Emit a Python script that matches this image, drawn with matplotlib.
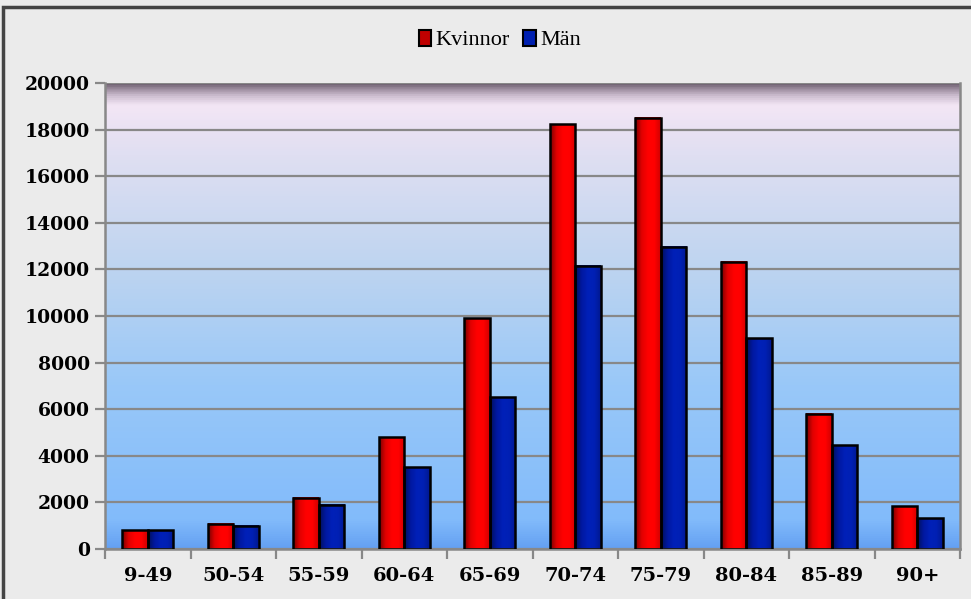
import numpy as np
import matplotlib
matplotlib.use('Agg')
import matplotlib.pyplot as plt
from matplotlib.colors import LinearSegmentedColormap
from matplotlib.patches import Rectangle, Patch

# data
categories = ['9-49', '50-54', '55-59', '60-64', '65-69', '70-74', '75-79', '80-84', '85-89', '90+']
kvinnor = [800, 1080, 2200, 4800, 9900, 18230, 18510, 12330, 5810, 1840]
man = [800, 1000, 1900, 3510, 6510, 12160, 12980, 9050, 4450, 1310]
series_names = ['Kvinnor', 'Män']

yticks = list(range(0, 20001, 2000))

fig = plt.figure(figsize=(9.71, 5.99), dpi=100, facecolor='#EBEBEB')
ax = fig.add_axes([105/971, 1 - 549/599, 855/971, 466/599])

ax.set_xlim(-0.5, len(categories) - 0.5)
ax.set_ylim(0, 20000)

# plot area background: vertical gradient (blue at bottom, lavender at top)
bg = LinearSegmentedColormap.from_list('bg', [
    (0.0, '#64A0F2'), (0.06, '#82BBFB'), (0.35, '#99C8F8'),
    (0.6, '#BDD4F0'), (0.85, '#E0DFF2'), (0.955, '#F3E6F5'),
    (0.975, '#CDBED0'), (0.99, '#9A8A9C'), (1.0, '#706272')])
grad = np.linspace(0, 1, 500).reshape(-1, 1)
ax.imshow(grad, aspect='auto', cmap=bg, origin='lower',
          extent=(-0.5, len(categories) - 0.5, 0, 20000), zorder=0)

ax.yaxis.grid(True, color='#888888', linewidth=1.6, zorder=1)
ax.set_axisbelow(True)

red_cm = LinearSegmentedColormap.from_list('r', ['#7A0000', '#E00000', '#FF0000', '#FF0000', '#D00000'])
blue_cm = LinearSegmentedColormap.from_list('b', ['#00105A', '#0018A0', '#0020B8', '#0020B4', '#001890'])
hgrad = np.linspace(0, 1, 50).reshape(1, -1)

width = 0.3
x = np.arange(len(categories))
for vals, off, cm in [(kvinnor, -width / 2, red_cm), (man, width / 2, blue_cm)]:
    for xi, v in zip(x, vals):
        left = xi + off - width / 2
        ax.imshow(hgrad, aspect='auto', cmap=cm, extent=(left, left + width, 0, v), zorder=2)
        ax.add_patch(Rectangle((left, 0), width, v, fill=False, edgecolor='black',
                               linewidth=1.8, zorder=3))

ax.set_xlim(-0.5, len(categories) - 0.5)
ax.set_ylim(0, 20000)

ax.set_yticks(yticks)
ax.set_yticklabels([str(t) for t in yticks], fontfamily='DejaVu Serif',
                   fontweight='bold', fontsize=13.5)
ax.set_xticks(x)
ax.set_xticklabels(categories, fontfamily='DejaVu Serif', fontweight='bold', fontsize=14)
ax.set_xticks(np.arange(-0.5, len(categories)), minor=True)
ax.tick_params(axis='x', which='major', length=0, pad=13)
ax.tick_params(axis='x', which='minor', length=7, color='#888888', width=1.6)
ax.tick_params(axis='y', length=7, color='#888888', width=1.6, pad=4)

for s in ax.spines.values():
    s.set_color('#888888')
    s.set_linewidth(1.8)
ax.spines['top'].set_visible(False)

handles = [Patch(facecolor='#C00000', edgecolor='black', linewidth=1.5),
           Patch(facecolor='#0020B0', edgecolor='black', linewidth=1.5)]
fig.legend(handles, series_names, loc='center', bbox_to_anchor=(500/971, 1 - 40/599),
           ncol=2, frameon=False, prop={'family': 'Liberation Serif', 'size': 16},
           handlelength=0.55, handleheight=0.75, handletextpad=0.2, columnspacing=0.6)

# outer chart border
fig.patches.append(Rectangle((3/971, -0.05), 2, 1 - 7/599 + 0.05, transform=fig.transFigure,
                             fill=False, edgecolor='#444444', linewidth=2.5))

fig.savefig('out.png', dpi=100, facecolor=fig.get_facecolor())
